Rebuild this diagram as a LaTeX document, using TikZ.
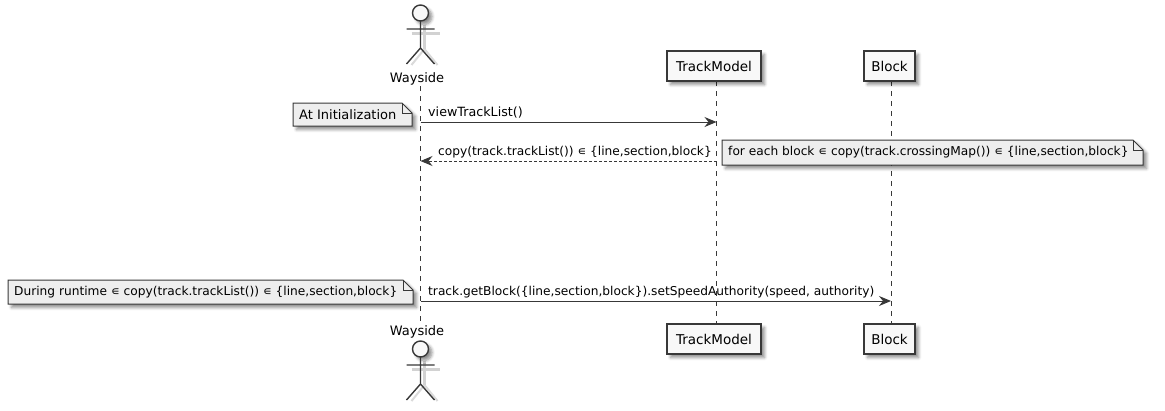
\documentclass[tikz,border=0pt]{standalone}
\usepackage{fontspec}
\setmainfont{DejaVu Sans}
\usetikzlibrary{arrows.meta,shadows.blur}
\definecolor{umlline}{HTML}{383838}
\definecolor{umlbox}{HTML}{F8F8F8}
\definecolor{umlnote}{HTML}{EEEEEE}
\tikzset{
  softshadow/.style={blur shadow={shadow xshift=3.5pt,shadow yshift=-3.5pt,shadow blur steps=6,shadow blur radius=3pt,shadow opacity=45}},
  partbox/.style={draw=umlline,line width=1.4pt,fill=umlbox,minimum height=30pt,inner sep=0pt,font=\fontsize{13.5}{15}\selectfont,softshadow},
  actorname/.style={inner sep=0pt,font=\fontsize{13}{15}\selectfont},
  lifeline/.style={draw=umlline,line width=1pt,dash pattern=on 5pt off 5pt},
  notetext/.style={anchor=west,inner sep=0pt,font=\fontsize{12.2}{14}\selectfont},
  notefill/.style={draw=umlline,line width=1pt,fill=umlnote,line join=miter,softshadow},
  msg/.style={draw=umlline,line width=1pt,-{Stealth[length=12pt,width=10pt,inset=4pt]}},
  msgtext/.style={anchor=west,inner sep=0pt,font=\fontsize{12.2}{14}\selectfont},
}
% note with folded corner: name, left, top, width, height, text
\newcommand{\notebox}[6]{%
  \begin{scope}[shift={(#2,#3)}]
    \path[notefill] (0,#5) -- (0,0) -- (#4-10,0) -- (#4,10) -- (#4,#5) -- cycle;
    \draw[umlline,line width=1pt] (#4-10,0) -- (#4-10,10) -- (#4,10);
    \node[notetext] (#1) at (6,#5/2) {#6};
  \end{scope}}
% stick figure, head centre at #1,#2
\newcommand{\stickman}[2]{%
  \begin{scope}[shift={(#1,#2)}]
    \draw[black!22,line width=3pt,opacity=.8] (4,12) -- (4,36) (-9,20) -- (19,20);
    \draw[black!18,line width=2pt,opacity=.8] (4,36) -- (-9,52) (4,36) -- (17,52);
    \draw[umlline,line width=1.4pt,fill=umlbox,softshadow] (0,0) circle (8);
    \draw[umlline,line width=1.4pt] (0,8) -- (0,35) (-14,16) -- (14,16) (0,35) -- (-14,51) (0,35) -- (14,51);
  \end{scope}}
\begin{document}
\begin{tikzpicture}[x=1pt,y=-1pt]
\useasboundingbox (0,0) rectangle (1165,410);

\coordinate (wayStart) at (420.5,86);
\coordinate (wayEnd) at (420.5,324);
\coordinate (trackStart) at (716.5,81);
\coordinate (trackEnd) at (716.5,324);
\coordinate (blockStart) at (891,81);
\coordinate (blockEnd) at (891,324);

\draw[lifeline] (wayStart) -- (wayEnd);
\draw[lifeline] (trackStart) -- (trackEnd);
\draw[lifeline] (blockStart) -- (blockEnd);

\stickman{420.5}{13}
\stickman{420.5}{349}

\node[actorname] (wayTop) at (417,79) {Wayside};
\node[actorname] (wayBot) at (417,332) {Wayside};
\node[partbox,minimum width=94pt] (trackTop) at (714,66) {TrackModel};
\node[partbox,minimum width=51pt] (blockTop) at (889.5,66) {Block};
\node[partbox,minimum width=94pt] (trackBot) at (714,339) {TrackModel};
\node[partbox,minimum width=51pt] (blockBot) at (889.5,339) {Block};

\coordinate (viewFrom) at (420.5,122);
\coordinate (viewTo) at (716.5,122);
\coordinate (copyFrom) at (716.5,161);
\coordinate (copyTo) at (420.5,161);
\coordinate (getFrom) at (420.5,301);
\coordinate (getTo) at (891,301);

\draw[msg] (viewFrom) -- (viewTo);
\draw[msg,densely dashed] (copyFrom) -- (copyTo);
\draw[msg] (getFrom) -- (getTo);

\node[msgtext,font=\fontsize{12.7}{14}\selectfont] (viewLabel) at (428,113) {viewTrackList()};
\node[msgtext] (copyLabel) at (438,152) {copy(track.trackList()) ∊ \{line,section,block\}};
\node[msgtext] (getLabel) at (428,292) {track.getBlock(\{line,section,block\}).setSpeedAuthority(speed, authority)};

\notebox{initNote}{293}{103}{119}{23}{\fontsize{13}{14}\selectfont At Initialization}
\notebox{eachNote}{722}{140}{421}{25}{for each block ∊ copy(track.crossingMap()) ∊ \{line,section,block\}}
\notebox{runNote}{8}{280}{405}{24}{During runtime ∊ copy(track.trackList()) ∊ \{line,section,block\}}
\end{tikzpicture}
\end{document}
